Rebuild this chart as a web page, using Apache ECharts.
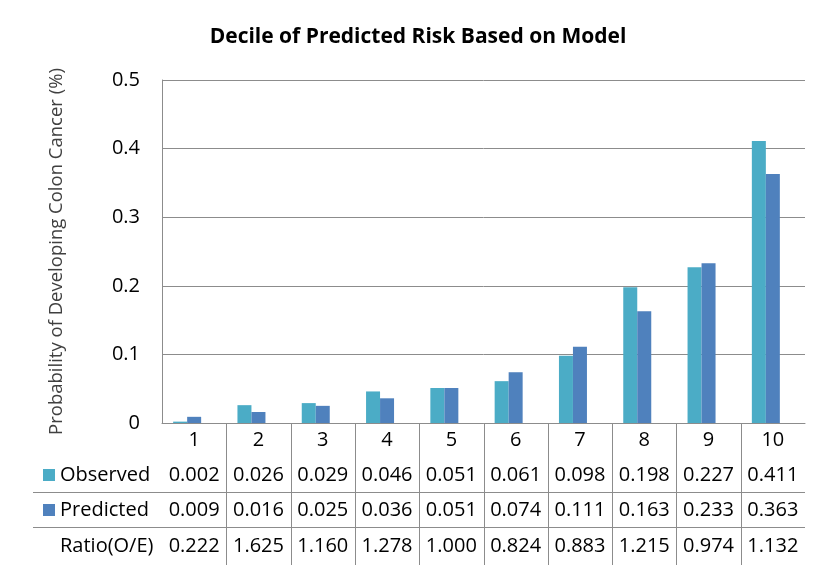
<!DOCTYPE html>
<html><head><meta charset="utf-8">
<script src="https://cdn.jsdelivr.net/npm/echarts@6/dist/echarts.min.js"></script>
<style>html,body{margin:0;padding:0;background:#fff}#c{width:827px;height:573px}</style>
</head><body><div id="c"></div>
<script>
const categories = ['1','2','3','4','5','6','7','8','9','10'];
const observed = [0.002,0.026,0.029,0.046,0.051,0.061,0.098,0.198,0.227,0.411];
const predicted = [0.009,0.016,0.025,0.036,0.051,0.074,0.111,0.163,0.233,0.363];
const ratio = [0.222,1.625,1.160,1.278,1.000,0.824,0.883,1.215,0.974,1.132];
const yTicks = [0,0.1,0.2,0.3,0.4,0.5];
const rowNames = ['Observed','Predicted','Ratio(O/E)'];

const FONT = 'Open Sans';
const FS = 20;
const colObs = '#4BACC6', colPred = '#4F81BD';
const chart = echarts.init(document.getElementById('c'), null, {renderer:'canvas'});
const grid = {left:162, right:22, top:80, bottom:150};
function rowAxis(vals, offset){
  return {type:'category', gridIndex:0, position:'bottom', offset:offset,
    data: vals.map(v=>v.toFixed(3)),
    axisLine:{show:false}, axisTick:{show:false}, splitLine:{show:false},
    axisLabel:{margin:7, color:'#000', fontFamily:FONT, fontSize:FS, interval:0}};
}
chart.setOption({
  animation:false,
  title:{text:'Decile of Predicted Risk Based on Model', left:413, textAlign:'center', top:22,
    textStyle:{fontFamily:FONT, fontWeight:'bold', fontSize:21, color:'#000'}},
  grid:grid,
  xAxis:[
    {type:'category', data:categories,
     axisLine:{lineStyle:{color:'#8c8c8c'}}, axisTick:{show:false},
     axisLabel:{margin:7, color:'#000', fontFamily:FONT, fontSize:FS, interval:0}},
    rowAxis(observed, 35),
    rowAxis(predicted, 70),
    rowAxis(ratio, 106)
  ],
  yAxis:{type:'value', min:yTicks[0], max:yTicks[yTicks.length-1], interval:0.1,
    name:'Probability of Developing Colon Cancer (%)', nameLocation:'middle', nameGap:96,
    nameTextStyle:{fontFamily:FONT, fontSize:18.5, color:'#404040'},
    axisLine:{show:true, lineStyle:{color:'#8c8c8c'}}, axisTick:{show:false},
    axisLabel:{margin:22, color:'#000', fontFamily:FONT, fontSize:FS},
    splitLine:{lineStyle:{color:'#8c8c8c'}}},
  series:[
    {name:'Observed', type:'bar', data:observed, barWidth:14, barGap:'0%', itemStyle:{color:colObs}},
    {name:'Predicted', type:'bar', data:predicted, barWidth:14, barGap:'0%', itemStyle:{color:colPred}},
    {name:'', type:'bar', data:categories.map(()=>null), barWidth:14, barGap:'0%', silent:true}
  ]
});
// table grid lines and row headers
const xs = categories.map((c,i)=>chart.convertToPixel({xAxisIndex:0}, i));
const yZero = chart.convertToPixel({yAxisIndex:0}, 0);
const rightX = 827 - grid.right;
const g = [];
for(let i=1;i<xs.length;i++){
  const x = Math.round((xs[i-1]+xs[i])/2)+0.5;
  g.push({type:'line', shape:{x1:x,y1:yZero,x2:x,y2:yZero+142}, style:{stroke:'#8c8c8c', lineWidth:1}});
}
[69, 104].forEach(d=>{
  const y = Math.round(yZero+d)+0.5;
  g.push({type:'line', shape:{x1:33,y1:y,x2:rightX,y2:y}, style:{stroke:'#8c8c8c', lineWidth:1}});
});
const rowY = [475, 510, 546];
const rowCols = [colObs, colPred, null];
rowNames.forEach((n,i)=>{
  if(rowCols[i]) g.push({type:'rect', shape:{x:43,y:rowY[i]-6,width:12,height:12}, style:{fill:rowCols[i]}});
  g.push({type:'text', x:60, y:rowY[i], style:{text:n, fill:'#000', font:FS+'px "'+FONT+'"', textVerticalAlign:'middle', textAlign:'left'}});
});
chart.setOption({graphic:g});
</script></body></html>
